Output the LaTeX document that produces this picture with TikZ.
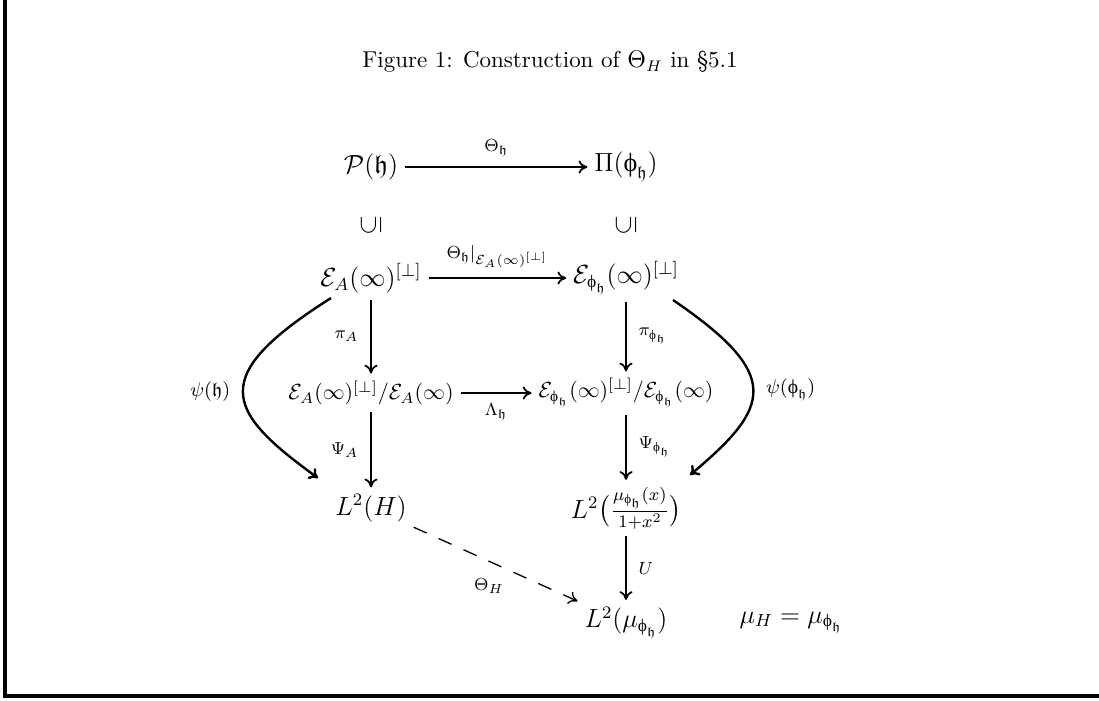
\documentclass[tikz,border=0pt]{standalone}
\usepackage{amsmath,amssymb}
\usepackage{fontspec}
\newfontfamily\gkf{Liberation Serif}
\usetikzlibrary{arrows.meta,calc}
\newcommand{\vph}{\text{\normalfont\gkf ϕ}}
\newcommand{\Ph}{{\vph_{\mathfrak h}}}
\begin{document}
\begin{tikzpicture}[x=0.4568pt,y=-0.4568pt,
  >={To[length=4pt,width=6pt]},
  ar/.style={->,line width=0.8pt},
  cv/.style={->,line width=1.1pt},
  dsh/.style={->,line width=0.6pt,dash pattern=on 6.5pt off 6pt},
  elab/.style={font=\footnotesize},
  nbig/.style={font=\large,inner sep=3pt},
  nmid/.style={font=\normalsize,inner sep=3pt}]
\useasboundingbox (0,0) rectangle (1099,700);
\draw[line width=1.4pt] (5,0) -- (5,696) -- (1099,696);

\node[font=\fontsize{10.5}{12}\selectfont] (title) at (550,62) {Figure 1: Construction of $\Theta_H$ in \S5.1};

\node[nbig] (P) at (371,167) {$\mathcal{P}(\mathfrak{h})$};
\node[nbig] (Pi) at (626,167) {$\Pi(\Ph)$};
\node[nbig,rotate=90] (s1) at (371,225) {$\subseteq$};
\node[nbig,rotate=90] (s2) at (626,225) {$\subseteq$};

\node[nbig] (EA) at (371,278) {$\mathcal{E}_A(\infty)^{[\perp]}$};
\node[nbig] (EP) at (626,278) {$\mathcal{E}_{\Ph}(\infty)^{[\perp]}$};
\node[nmid] (QA) at (371,393) {$\mathcal{E}_A(\infty)^{[\perp]}/\mathcal{E}_A(\infty)$};
\node[nmid] (QP) at (626,393) {$\mathcal{E}_{\Ph}(\infty)^{[\perp]}/\mathcal{E}_{\Ph}(\infty)$};
\node[nbig] (L2H) at (371,508) {$L^2(H)$};
\node[nbig] (L2F) at (626,508) {$L^2\big(\frac{\mu_{\Ph}(x)}{1+x^2}\big)$};
\node[nbig] (L2M) at (626,623) {$L^2(\mu_{\Ph})$};
\node[nbig] (eq) at (791,623) {$\mu_H=\mu_{\Ph}$};

\draw[ar] (P) -- node[elab,above=1pt] {$\Theta_{\mathfrak h}$} (Pi);
\draw[ar] (EA) -- node[elab,above=1pt] {$\Theta_{\mathfrak h}|_{\mathcal{E}_A(\infty)^{[\perp]}}$} (EP);
\draw[ar] (EA) -- node[elab,left=2pt] {$\pi_A$} (QA);
\draw[ar] (QA) -- node[elab,left=2pt] {$\Psi_A$} (L2H);
\draw[ar] (EP) -- node[elab,right=2pt] {$\pi_{\Ph}$} (QP);
\draw[ar] (QP) -- node[elab,right=2pt] {$\Psi_{\Ph}$} (L2F);
\draw[ar] (L2F) -- node[elab,right=2pt] {$U$} (L2M);
\draw[ar] (QA) -- node[elab,below=1pt] {$\Lambda_{\mathfrak h}$} (QP);
\draw[dsh] (L2H) -- node[elab,below=3pt,xshift=-3pt] {$\Theta_H$} (L2M);

\draw[cv] ($(EA)+(-40,20)$) .. controls (208,376) and (224,410) .. ($(L2H)+(-53,-30)$)
  node[pos=.5,left=2pt,font=\small] {$\psi(\mathfrak h)$};
\draw[cv] ($(EP)+(47,22)$) .. controls (783,375) and (771,407) .. ($(L2F)+(64,-33)$)
  node[pos=.5,right=2pt,font=\small] {$\psi(\Ph)$};
\end{tikzpicture}
\end{document}
